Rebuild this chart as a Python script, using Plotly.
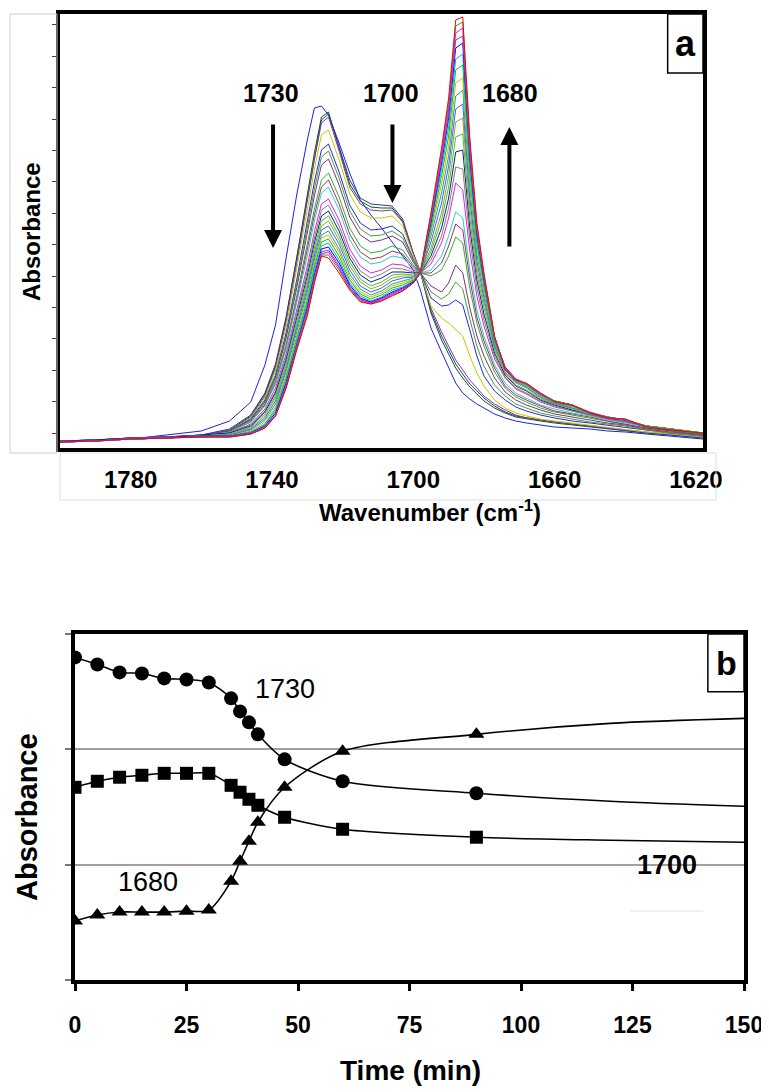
import plotly.graph_objects as go

# ---------------- Panel a : FTIR spectra (arbitrary absorbance units) ----------------
wavenumber = [1800, 1790, 1780, 1770, 1760, 1752, 1746, 1742, 1739, 1736, 1733, 1730, 1728,
              1726, 1724, 1721, 1718, 1715, 1712, 1709, 1706, 1703, 1700, 1698, 1695, 1692,
              1690, 1688, 1686, 1684, 1682, 1680, 1677, 1674, 1671, 1668, 1664, 1660, 1655,
              1650, 1645, 1640, 1634, 1627, 1618]

spec_00 = [6, 8, 9, 13, 17, 27, 46, 83, 123, 190, 253, 308, 340, 342, 333, 305, 275, 248, 233, 220, 206, 192, 178, 158, 120, 96, 80, 65, 55, 49, 44, 40, 34, 30, 27, 25, 23, 21, 20, 19, 17, 16, 14, 12, 9]
spec_01 = [6, 7, 9, 10, 12, 18, 32, 54, 82, 130, 190, 252, 295, 331, 336, 300, 264, 247, 241, 240, 240, 227, 194, 176, 135, 108, 94, 80, 70, 61, 54, 47, 40, 35, 31, 29, 27, 25, 23, 21, 19, 17, 15, 13, 10]
spec_02 = [7, 8, 9, 11, 13, 19, 33, 55, 84, 131, 190, 250, 292, 328, 334, 302, 268, 250, 244, 243, 242, 229, 195, 176, 137, 112, 98, 84, 74, 64, 57, 50, 42, 36, 32, 30, 28, 26, 24, 22, 20, 18, 15, 13, 10]
spec_03 = [6, 8, 9, 10, 12, 17, 31, 52, 80, 126, 184, 245, 289, 325, 331, 297, 261, 244, 238, 237, 238, 226, 194, 176, 140, 116, 102, 88, 78, 68, 60, 52, 44, 38, 33, 30, 28, 26, 24, 22, 20, 18, 16, 14, 11]
spec_04 = [7, 8, 10, 11, 12, 17, 30, 50, 77, 121, 178, 238, 279, 313, 318, 288, 254, 236, 230, 230, 232, 222, 192, 176, 142, 130, 125, 118, 112, 92, 75, 62, 48, 40, 35, 32, 29, 27, 25, 23, 21, 19, 16, 14, 11]
spec_05 = [6, 7, 9, 10, 12, 17, 29, 48, 73, 115, 168, 226, 266, 298, 304, 276, 243, 225, 218, 219, 222, 214, 189, 176, 150, 142, 143, 148, 143, 118, 92, 72, 57, 48, 41, 37, 33, 30, 27, 25, 23, 21, 18, 15, 12]
spec_06 = [6, 8, 9, 10, 12, 17, 28, 47, 72, 112, 164, 220, 259, 291, 297, 270, 237, 219, 212, 213, 217, 210, 188, 176, 156, 149, 154, 166, 159, 129, 102, 82, 63, 52, 44, 40, 35, 32, 29, 26, 24, 22, 18, 15, 12]
spec_07 = [7, 8, 10, 11, 13, 17, 28, 46, 70, 110, 160, 214, 252, 283, 289, 263, 231, 213, 206, 208, 212, 206, 186, 175, 162, 156, 165, 183, 175, 140, 112, 92, 70, 56, 48, 43, 38, 34, 31, 28, 25, 23, 19, 16, 13]
spec_08 = [6, 7, 9, 10, 12, 16, 27, 44, 67, 104, 152, 203, 239, 268, 275, 251, 220, 202, 195, 197, 202, 198, 183, 175, 172, 178, 192, 211, 205, 160, 125, 102, 76, 60, 51, 46, 40, 36, 33, 30, 27, 24, 20, 17, 13]
spec_09 = [6, 8, 9, 10, 12, 16, 26, 43, 65, 101, 148, 197, 233, 261, 268, 244, 214, 196, 189, 191, 197, 194, 181, 175, 175, 185, 202, 224, 218, 169, 131, 107, 80, 62, 53, 48, 42, 37, 34, 31, 27, 24, 20, 17, 13]
spec_10 = [7, 8, 10, 11, 12, 16, 26, 42, 64, 99, 145, 192, 227, 255, 261, 238, 208, 191, 184, 186, 192, 190, 180, 175, 178, 192, 212, 236, 230, 178, 138, 112, 83, 65, 55, 50, 43, 39, 35, 32, 28, 25, 21, 18, 14]
spec_11 = [6, 7, 9, 10, 12, 15, 24, 39, 60, 94, 138, 182, 216, 244, 249, 228, 199, 182, 175, 178, 184, 183, 178, 175, 184, 205, 230, 265, 258, 197, 152, 122, 89, 70, 59, 54, 46, 41, 37, 33, 29, 26, 22, 19, 14]
spec_12 = [6, 7, 9, 10, 12, 15, 23, 37, 57, 91, 134, 177, 210, 238, 243, 222, 194, 177, 170, 174, 180, 179, 176, 175, 188, 212, 240, 281, 279, 209, 160, 128, 92, 71, 60, 55, 47, 42, 37, 33, 29, 26, 22, 19, 14]
spec_13 = [7, 8, 10, 11, 13, 15, 22, 36, 55, 88, 130, 172, 205, 232, 237, 217, 190, 173, 166, 170, 176, 176, 175, 175, 192, 220, 250, 296, 298, 220, 168, 134, 95, 73, 62, 57, 48, 43, 38, 34, 30, 27, 22, 19, 15]
spec_14 = [7, 8, 9, 11, 12, 14, 21, 34, 52, 85, 126, 168, 200, 227, 232, 212, 186, 169, 162, 166, 173, 174, 173, 175, 196, 228, 261, 311, 314, 230, 174, 140, 98, 75, 63, 58, 49, 44, 39, 34, 30, 27, 22, 19, 15]
spec_15 = [6, 7, 9, 10, 12, 14, 20, 32, 50, 82, 123, 164, 196, 222, 227, 208, 182, 166, 159, 163, 170, 172, 172, 175, 200, 235, 272, 326, 330, 240, 180, 145, 100, 76, 65, 60, 50, 44, 40, 35, 30, 28, 22, 19, 15]
spec_16 = [6, 8, 9, 10, 12, 13, 19, 30, 47, 79, 120, 160, 192, 218, 222, 204, 178, 162, 156, 160, 167, 170, 171, 175, 206, 245, 282, 339, 344, 250, 187, 150, 102, 78, 66, 61, 51, 45, 40, 35, 31, 28, 22, 19, 15]
spec_17 = [7, 8, 10, 11, 12, 13, 18, 28, 44, 76, 116, 156, 188, 213, 217, 199, 174, 159, 153, 157, 164, 167, 170, 175, 212, 255, 292, 352, 358, 260, 194, 155, 104, 79, 67, 62, 52, 45, 41, 35, 31, 28, 22, 19, 15]
spec_18 = [7, 7, 9, 11, 12, 12, 17, 26, 41, 73, 112, 152, 184, 210, 213, 196, 171, 156, 151, 155, 162, 165, 169, 175, 216, 264, 302, 365, 370, 268, 200, 158, 106, 80, 68, 62, 52, 46, 41, 35, 31, 28, 22, 19, 15]
spec_19 = [6, 7, 9, 10, 11, 12, 16, 24, 39, 70, 109, 148, 181, 206, 209, 192, 168, 154, 149, 153, 160, 163, 168, 175, 220, 272, 312, 378, 383, 276, 205, 162, 107, 80, 68, 63, 53, 46, 42, 35, 31, 28, 22, 19, 15]
spec_20 = [6, 8, 9, 10, 12, 12, 16, 23, 37, 67, 106, 144, 177, 202, 205, 188, 165, 152, 147, 151, 158, 161, 167, 175, 223, 279, 321, 389, 394, 283, 210, 165, 108, 80, 68, 63, 53, 46, 42, 35, 30, 28, 21, 18, 14]
spec_21 = [7, 8, 10, 11, 12, 12, 15, 22, 35, 65, 104, 141, 173, 199, 201, 185, 163, 150, 146, 150, 156, 160, 166, 175, 226, 285, 330, 400, 405, 290, 214, 168, 110, 81, 69, 64, 54, 47, 43, 35, 30, 28, 21, 18, 14]
spec_22 = [7, 7, 10, 11, 11, 12, 15, 21, 33, 63, 102, 138, 170, 196, 198, 182, 161, 149, 145, 149, 155, 159, 165, 175, 228, 288, 335, 408, 412, 295, 217, 170, 110, 81, 69, 64, 54, 47, 43, 36, 31, 28, 21, 18, 14]
spec_23 = [6, 7, 9, 10, 11, 11, 14, 20, 32, 61, 100, 136, 167, 194, 196, 180, 160, 148, 145, 148, 154, 158, 165, 175, 231, 292, 340, 415, 420, 300, 220, 172, 111, 80, 69, 64, 54, 47, 43, 35, 30, 28, 21, 18, 14]
spec_24 = [6, 7, 9, 10, 11, 11, 14, 20, 32, 60, 99, 134, 166, 193, 193, 178, 159, 147, 144, 147, 153, 157, 165, 175, 233, 296, 345, 422, 426, 305, 222, 173, 111, 79, 68, 64, 55, 47, 43, 35, 30, 29, 21, 18, 14]
spec_25 = [6, 7, 9, 10, 11, 11, 14, 20, 32, 60, 98, 132, 165, 192, 190, 175, 158, 146, 144, 147, 152, 157, 165, 176, 235, 300, 350, 428, 431, 310, 225, 175, 112, 78, 68, 65, 55, 46, 43, 35, 30, 29, 21, 18, 15]

spectra = [spec_00, spec_01, spec_02, spec_03, spec_04, spec_05, spec_06, spec_07, spec_08,
           spec_09, spec_10, spec_11, spec_12, spec_13, spec_14, spec_15, spec_16, spec_17,
           spec_18, spec_19, spec_20, spec_21, spec_22, spec_23, spec_24, spec_25]
spec_colors = ["#2020E0", "#006400", "#3030B0", "#7F3F7F", "#C8C800", "#2828D8", "#40A040",
               "#803080", "#30B030", "#993366", "#30C8C8", "#E020E0", "#808080", "#1A1A80",
               "#33CC33", "#A0A020", "#3366FF", "#20A0A0", "#E0B000", "#00CC00", "#00B0E0",
               "#0000FF", "#9933CC", "#FF00FF", "#339933", "#FF0000"]

wn_ticks = [1780, 1740, 1700, 1660, 1620]

# ---------------- Panel b : band absorbance vs time ----------------
time_min = [0, 5, 10, 15, 20, 25, 30, 35, 37, 39, 41, 47, 60, 90]
abs_1730 = [2.797, 2.736, 2.667, 2.658, 2.615, 2.606, 2.580, 2.442, 2.329, 2.234, 2.130, 1.913, 1.723, 1.619]
abs_1700 = [1.671, 1.723, 1.758, 1.775, 1.792, 1.792, 1.792, 1.688, 1.628, 1.567, 1.515, 1.411, 1.307, 1.238]
abs_1680 = [0.511, 0.563, 0.589, 0.589, 0.589, 0.597, 0.606, 0.857, 1.030, 1.203, 1.368, 1.671, 1.983, 2.130]
fit_time = [120, 150]
fit_1730 = [1.550, 1.506]
fit_1700 = [1.212, 1.195]
fit_1680 = [2.225, 2.268]

time_ticks = [0, 25, 50, 75, 100, 125, 150]

FONT = "Liberation Sans, Arial, sans-serif"
W, H = 769, 1092
OFF = 8  # page body margin of the written html

fig = go.Figure()

for spec, col in zip(spectra, spec_colors):
    fig.add_trace(go.Scatter(x=wavenumber, y=spec, mode="lines", xaxis="x", yaxis="y",
                             line=dict(color=col, width=1), showlegend=False, hoverinfo="skip"))

for vals, fitv, sym, size in [(abs_1730, fit_1730, "circle", 14),
                              (abs_1700, fit_1700, "square", 13),
                              (abs_1680, fit_1680, "triangle-up", 14)]:
    fig.add_trace(go.Scatter(x=time_min + fit_time, y=vals + fitv, mode="lines", xaxis="x2", yaxis="y2",
                             line=dict(color="black", width=1.6, shape="spline", smoothing=0.8),
                             showlegend=False, hoverinfo="skip"))
    fig.add_trace(go.Scatter(x=time_min, y=vals, mode="markers", xaxis="x2", yaxis="y2",
                             marker=dict(symbol=sym, size=size, color="black"),
                             showlegend=False, hoverinfo="skip"))

def px(x):
    return (x - OFF) / W

def py(y):
    return 1 - (y - OFF) / H

fig.update_layout(
    width=W, height=H, autosize=False,
    margin=dict(l=0, r=0, t=0, b=0, autoexpand=False),
    paper_bgcolor="white", plot_bgcolor="white",
    xaxis=dict(domain=[px(60), px(703)], range=[1800, 1618], anchor="y", automargin=False,
               tickvals=wn_ticks, ticktext=["<b>%d</b>" % v for v in wn_ticks],
               tickfont=dict(family=FONT, size=24, color="black"),
               ticks="outside", ticklen=7, tickcolor="rgba(0,0,0,0)",
               showline=True, mirror=True, linewidth=3.5, linecolor="black",
               showgrid=False, zeroline=False),
    yaxis=dict(domain=[py(448), py(14)], range=[0, 434], anchor="x", automargin=False,
               showticklabels=False, ticks="outside", ticklen=4, tickwidth=1, tickcolor="#444",
               tick0=15, dtick=31.4,
               showline=True, mirror=True, linewidth=3.5, linecolor="black",
               showgrid=False, zeroline=False),
    xaxis2=dict(domain=[px(75), px(744)], range=[0, 150], anchor="y2", automargin=False,
                tickvals=time_ticks, ticktext=["<b>%d</b>" % v for v in time_ticks],
                tickfont=dict(family=FONT, size=23, color="black"),
                ticks="outside", ticklen=7, tickwidth=3, tickcolor="black",
                ticklabelstandoff=14,
                showline=True, mirror=True, linewidth=4, linecolor="black",
                showgrid=False, zeroline=False),
    yaxis2=dict(domain=[py(980), py(634)], range=[0, 3], anchor="x2", automargin=False,
                tickvals=[0, 1, 2, 3], showticklabels=False,
                ticks="outside", ticklen=6, tickwidth=2, tickcolor="#777",
                showgrid=True, gridcolor="#a0a0a0", gridwidth=1.5,
                showline=True, mirror=True, linewidth=4, linecolor="black",
                zeroline=False),
)

shapes = [
    dict(type="rect", xref="paper", yref="paper", x0=px(10), x1=px(57), y0=py(453), y1=py(14),
         line=dict(color="#d0d0d0", width=1)),
    dict(type="rect", xref="paper", yref="paper", x0=px(60), x1=px(716), y0=py(500), y1=py(453),
         line=dict(color="#dcdcdc", width=1)),
    dict(type="rect", xref="x", yref="y", x0=1628, x1=1618, y0=375, y1=434,
         line=dict(color="black", width=1.5)),
    dict(type="rect", xref="x2", yref="y2", x0=141.9, x1=150, y0=2.5, y1=3,
         line=dict(color="black", width=1.5)),
    dict(type="line", xref="paper", yref="paper", x0=px(630), x1=px(703), y0=py(911), y1=py(911),
         line=dict(color="#e4e4e4", width=1)),
]
fig.update_layout(shapes=shapes)

ann = []
def txt(x, y, s, size, xref="paper", yref="paper", bold=True, angle=0):
    ann.append(dict(x=x, y=y, xref=xref, yref=yref, text=("<b>%s</b>" % s) if bold else s,
                    showarrow=False, textangle=angle, xanchor="center", yanchor="middle",
                    font=dict(family=FONT, size=size, color="black")))

def arrow(x, y_head, y_tail):
    ann.append(dict(x=x, y=y_head, ax=x, ay=y_tail, xref="x", yref="y", axref="x", ayref="y",
                    text="", showarrow=True, arrowhead=2, arrowsize=0.9, arrowwidth=4,
                    arrowcolor="black"))

# panel a annotations
txt(1740.2, 355, "1730", 25, "x", "y")
txt(1706.2, 355, "1700", 25, "x", "y")
txt(1672.5, 355, "1680", 25, "x", "y")
arrow(1739.7, 200, 325)
arrow(1705.9, 245, 325)
arrow(1672.8, 321, 200)
txt(1623, 404, "a", 36, "x", "y")
txt(px(32), py(232), "Absorbance", 24, angle=-90)
txt(px(430), py(511), "Wavenumber (cm<sup>-1</sup>)", 24)

# panel b annotations
txt(47.1, 2.52, "1730", 27, "x2", "y2", bold=False)
txt(16.4, 0.85, "1680", 27, "x2", "y2", bold=False)
txt(132.7, 1.0, "1700", 27, "x2", "y2", bold=True)
txt(146, 2.75, "b", 34, "x2", "y2")
txt(px(27), py(817), "Absorbance", 29, angle=-90)
txt(px(410), py(1070), "Time (min)", 28)

fig.update_layout(annotations=ann)

fig.write_html("out.html")
